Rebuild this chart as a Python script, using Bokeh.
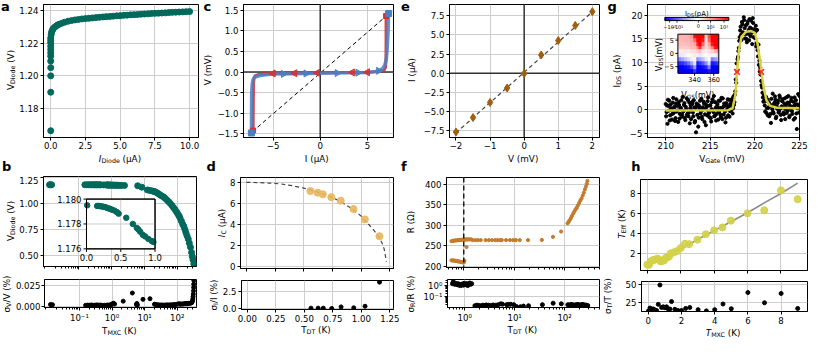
import math
import numpy as np
from bokeh.plotting import figure
from bokeh.layouts import row, column
from bokeh.models import (Range1d, LinearScale, FixedTicker, CustomJSTickFormatter,
                          Label, Span, LinearColorMapper, Div)
from bokeh.core.properties import value
from bokeh.embed import file_html
from bokeh.resources import INLINE

# ======================= DATA =======================
# (a) diode V-I
a_I = [0, 0, 0, 0, 0, 0, 0, 0, 0, 0, 0, 0,
       0.03, 0.06, 0.1, 0.15, 0.2, 0.3, 0.4, 0.5, 0.6, 0.8,
       1.0, 1.25, 1.5, 1.75, 2.0, 2.25, 2.5, 2.75, 3.0, 3.25,
       3.5, 3.75, 4.0, 4.25, 4.5, 4.75, 5.0, 5.25, 5.5, 5.75,
       6.0, 6.25, 6.5, 6.75, 7.0, 7.25, 7.5, 7.75, 8.0, 8.25,
       8.5, 8.75, 9.0, 9.25, 9.5, 9.75, 10.0]
a_V = [1.1665, 1.190, 1.200, 1.205, 1.209, 1.212, 1.214, 1.216, 1.218, 1.220, 1.2215, 1.223,
       1.225, 1.2265, 1.2275, 1.2283, 1.229, 1.2298, 1.2304, 1.231, 1.2314, 1.2321,
       1.2327, 1.2333, 1.2337, 1.2341, 1.2344, 1.2347, 1.2349, 1.2351, 1.2353, 1.2355,
       1.2357, 1.2359, 1.2361, 1.2362, 1.2364, 1.2366, 1.2367, 1.2369, 1.2370, 1.2372,
       1.2373, 1.2374, 1.2376, 1.2377, 1.2378, 1.2380, 1.2381, 1.2382, 1.2383, 1.2384,
       1.2386, 1.2387, 1.2388, 1.2389, 1.2390, 1.2391, 1.2392]
a_err = [0.0018, 0.0016, 0.0015, 0.0012, 0.0010, 0.0010, 0.0008, 0.0008, 0.0008, 0.0008, 0.0008, 0.0008]

# (b) diode V vs T_MXC
b_T = [0.013, 0.014, 0.015, 0.155, 0.179, 0.203, 0.227, 0.251, 0.275, 0.300, 0.324, 0.348,
       0.372, 0.406, 0.444, 0.469, 0.580, 0.676, 0.734, 0.758, 0.783, 0.821, 0.855, 0.903,
       0.952, 0.976, 1.05, 1.12, 1.2, 1.3, 1.4, 1.5, 1.65, 1.8, 2.0, 2.5,
       6.3, 8.4, 12.5, 15, 17.6, 20, 22, 25, 28, 31, 35, 40, 44, 50, 56, 62, 70, 78, 87, 96,
       105, 115, 123, 135, 148, 160, 173, 185, 200, 218, 235, 255, 275, 290, 305, 322]
b_V = [1.1796, 1.1795, 1.1796, 1.17945, 1.17945, 1.17943, 1.1794, 1.17938, 1.17935, 1.1793,
       1.17925, 1.1792, 1.17915, 1.17908, 1.17895, 1.17883, 1.1785, 1.1780, 1.17768, 1.17755,
       1.17738, 1.17713, 1.1770, 1.1768, 1.17663, 1.17655, 1.1763, 1.1761, 1.1758, 1.1755,
       1.1752, 1.1749, 1.1745, 1.1741, 1.1736, 1.173,
       1.17, 1.156, 1.13, 1.125, 1.12, 1.115, 1.11, 1.10, 1.09, 1.08, 1.07, 1.06, 1.047, 1.03,
       1.015, 1.0, 0.98, 0.96, 0.94, 0.92, 0.9, 0.88, 0.86, 0.83, 0.80, 0.78, 0.75, 0.72, 0.69,
       0.66, 0.62, 0.58, 0.53, 0.49, 0.46, 0.42]
bi_T = [0.01, 0.155, 0.179, 0.203, 0.227, 0.251, 0.275, 0.300, 0.324, 0.348, 0.372, 0.406,
        0.444, 0.469, 0.580, 0.676, 0.734, 0.758, 0.783, 0.821, 0.855, 0.903, 0.952, 0.976]
bi_V = [1.1795, 1.17945, 1.17945, 1.17943, 1.1794, 1.17938, 1.17935, 1.1793, 1.17925, 1.1792,
        1.17915, 1.17908, 1.17895, 1.17883, 1.1785, 1.1780, 1.17768, 1.17755, 1.17738, 1.17713,
        1.1770, 1.1768, 1.17663, 1.17655]
bs_T = [0.013, 0.014, 0.015, 0.155, 0.18, 0.2, 0.23, 0.25, 0.28, 0.3, 0.33, 0.35, 0.38, 0.41,
        0.44, 0.47, 0.58, 0.68, 0.73, 0.78, 0.82, 0.86, 0.9, 0.95, 0.98, 1.05, 1.12, 1.2, 2.2,
        4.2, 5.6, 5.8, 6.0, 8.9, 14.6, 20, 22, 25, 28, 31, 35, 40, 44, 50, 56, 62, 70, 78, 87,
        96, 105, 115, 123, 135, 148, 160, 173, 185, 200, 218, 235, 255, 275, 285, 295, 300,
        305, 310, 315, 318, 320, 322]
bs_S = [0.0025, 0.0018, 0.0022, 0.0015, 0.0018, 0.0016, 0.0019, 0.0017, 0.0015, 0.0018,
        0.0016, 0.0019, 0.0017, 0.0015, 0.0018, 0.0016, 0.0017, 0.0016, 0.0018, 0.0015,
        0.0017, 0.0019, 0.0016, 0.0018, 0.0028, 0.0035, 0.0040, 0.0030, 0.0065, 0.0163,
        0.0025, 0.0038, 0.0018, 0.0087, 0.0095, 0.0028, 0.0025, 0.0022, 0.0020, 0.0018,
        0.0020, 0.0017, 0.0019, 0.0021, 0.0018, 0.0022, 0.0020, 0.0025, 0.0023, 0.0027,
        0.0030, 0.0035, 0.0028, 0.0032, 0.0030, 0.0035, 0.0033, 0.0038, 0.0034, 0.0040,
        0.0036, 0.0042, 0.0045, 0.0055, 0.0070, 0.0090, 0.0120, 0.0150, 0.0190, 0.0230,
        0.0270, 0.0315]

# (c) junction I-V hysteresis
c_up_I = [-7.30, -7.29, -7.27, -7.22, -7.12, -6.9, -6.5, -6.0, -5.0, -3.0, 0.0, 3.0, 5.0,
          5.8, 6.3, 6.6, 6.85, 7.0, 7.1, 7.2, 7.25]
c_up_V = [-1.48, -1.0, -0.5, -0.3, -0.18, -0.12, -0.09, -0.07, -0.05, -0.04, -0.03, -0.02,
          -0.01, 0.01, 0.04, 0.08, 0.17, 0.3, 0.55, 1.0, 1.42]
c_dn_I = [6.98, 6.98, 6.97, 6.93, 6.8, 6.3, 5.0, 0.0, -5.0, -6.5, -6.9, -7.02, -7.08, -7.1, -7.12]
c_dn_V = [1.36, 0.8, 0.3, 0.12, 0.05, 0.015, -0.005, -0.02, -0.035, -0.055, -0.09, -0.15,
          -0.3, -0.8, -1.45]
c_mk_dn_I = [-5.0, -2.7, -0.3, 3.4, 5.0]
c_mk_dn_V = [-0.035, -0.03, -0.02, -0.01, -0.005]
c_mk_up_I = [-3.9, -1.5, 1.8, 4.0, 6.2]
c_mk_up_V = [-0.045, -0.035, -0.025, -0.015, 0.03]
c_end_up_I = [-7.30, 7.25]
c_end_up_V = [-1.48, 1.42]
c_end_dn_I = [-7.12, 6.98]
c_end_dn_V = [-1.42, 1.36]
c_fit_I = [-7.2, 7.3]
c_fit_V = [-1.45, 1.42]

# (d) critical current vs T_DT
d_T = [0.558, 0.621, 0.666, 0.740, 0.822, 0.933, 1.032, 1.159]
d_I = [7.18, 7.02, 6.87, 6.60, 6.26, 5.47, 4.49, 2.90]
d_sig = [0.09, 0.09, 0.09, 0.05, 0.27, 0.14, 0.36, 3.77]
d_fit_T = [0.0, 0.1, 0.2, 0.3, 0.4, 0.5, 0.6, 0.7, 0.8, 0.9, 1.0, 1.05, 1.1, 1.15, 1.18, 1.2, 1.22]
d_fit_I = [8.0, 7.98, 7.93, 7.85, 7.68, 7.45, 7.15, 6.78, 6.3, 5.65, 4.8, 4.2, 3.6, 2.9, 2.3, 1.7, 0.5]

# (e) I-V of resistor
e_V = [-2, -1.5, -1, -0.5, 0, 0.5, 1, 1.5, 2]
e_I = [-7.67, -5.78, -3.81, -1.93, -0.04, 2.39, 4.27, 6.24, 8.04]
e_err = [0.35, 0.35, 0.35, 0.35, 0.35, 0.35, 0.35, 0.35, 0.35]
e_fit_V = [-2.0, 2.0]
e_fit_I = [-7.78, 8.02]

# (f) R vs T_DT
f_T = [0.57, 0.6, 0.63, 0.66, 0.7, 0.74, 0.78, 0.82, 0.86, 0.9, 0.95, 1.0, 1.05, 1.1, 1.16,
       1.22, 1.3, 1.39,
       0.57, 0.6, 0.63, 0.66, 0.7, 0.74, 0.78, 0.82, 0.86, 0.9, 0.95, 1.0, 1.03, 1.13,
       1.5, 1.7, 1.9, 2.17, 2.71, 3.15, 3.66, 4.24, 4.71, 5.31, 5.7, 6.93, 8.3, 9.63, 10.85,
       12.96, 18.9, 35.7, 59.3, 86.1,
       116, 122, 128, 135, 141, 150, 158, 167, 176, 186, 197, 208, 220, 232, 244, 256, 268,
       280, 288]
f_R = [261.5, 262, 262.5, 263, 263.3, 263.6, 264, 264.2, 264.5, 264.7, 265, 265.2, 265.4,
       265.5, 265.6, 265.7, 265.8, 265.9,
       214.5, 214.2, 214, 213.6, 213.2, 212.6, 212, 211.4, 210.8, 210.2, 209.6, 209.2, 213.5,
       247,
       264, 264, 264, 264, 264, 264, 264, 264, 264, 264, 264, 264, 264, 264, 264, 264, 264,
       264.5, 272, 285,
       305, 309, 313, 318, 323, 329, 334, 339, 343, 349, 355, 361, 366, 373, 380, 388, 395,
       402, 409]
f_Tc = 1.0
fs_T = [0.57, 0.59, 0.61, 0.63, 0.65, 0.68, 0.71, 0.74, 0.77, 0.8, 0.83, 0.86, 0.9, 0.94,
        0.98, 1.02, 1.06, 1.1, 1.15, 1.2, 1.26, 1.32, 1.38,
        1.6, 1.75, 1.9, 2.1, 2.3, 2.5, 2.7, 3.0, 3.3, 3.7, 4.2, 4.7, 5.3, 5.7, 6.9, 7.5, 8.3,
        9.6, 10.8, 13, 15, 19, 36, 59, 86, 116, 125, 135, 145, 155, 165, 175, 185, 195, 205,
        215, 225, 235, 245, 255, 265, 275, 285, 290]
fs_S = [1.5, 2.2, 1.7, 1.3, 1.6, 1.4, 1.2, 1.5, 1.1, 1.3, 1.0, 1.2, 1.4, 1.1, 1.6, 1.3, 1.2,
        1.5, 1.0, 1.4, 1.7, 1.3, 1.5,
        0.016, 0.018, 0.017, 0.016, 0.018, 0.017, 0.019, 0.018, 0.017, 0.019, 0.018, 0.02,
        0.024, 0.022, 0.02, 0.021, 0.022, 0.02, 0.014, 0.013, 0.015, 0.016, 0.02, 0.027, 0.024,
        0.02, 0.019, 0.021, 0.02, 0.018, 0.019, 0.02, 0.021, 0.019, 0.018, 0.02, 0.019, 0.021,
        0.018, 0.017, 0.019, 0.016, 0.014, 0.017]

# (g) Coulomb peak
g_x = [
    210.0, 210.05, 210.1, 210.15, 210.2, 210.25, 210.3, 210.35, 210.4, 210.45, 210.5, 210.55, 210.6, 210.65, 210.7, 210.75, 210.8, 210.85, 210.9, 210.95,
    211.0, 211.05, 211.1, 211.15, 211.2, 211.25, 211.3, 211.35, 211.4, 211.45, 211.5, 211.55, 211.6, 211.65, 211.7, 211.75, 211.8, 211.85, 211.9, 211.95,
    212.0, 212.05, 212.1, 212.15, 212.2, 212.25, 212.3, 212.35, 212.4, 212.45, 212.5, 212.55, 212.6, 212.65, 212.7, 212.75, 212.8, 212.85, 212.9, 212.95,
    213.0, 213.05, 213.1, 213.15, 213.2, 213.25, 213.3, 213.35, 213.4, 213.45, 213.5, 213.55, 213.6, 213.65, 213.7, 213.75, 213.8, 213.85, 213.9, 213.95,
    214.0, 214.05, 214.1, 214.15, 214.2, 214.25, 214.3, 214.35, 214.4, 214.45, 214.5, 214.55, 214.6, 214.65, 214.7, 214.75, 214.8, 214.85, 214.9, 214.95,
    215.0, 215.05, 215.1, 215.15, 215.2, 215.25, 215.3, 215.35, 215.4, 215.45, 215.5, 215.55, 215.6, 215.65, 215.7, 215.75, 215.8, 215.85, 215.9, 215.95,
    216.0, 216.05, 216.1, 216.15, 216.2, 216.25, 216.3, 216.35, 216.4, 216.45, 216.5, 216.55, 216.6, 216.65, 216.7, 216.75, 216.8, 216.85, 216.9, 216.95,
    217.0, 217.05, 217.1, 217.15, 217.2, 217.25, 217.3, 217.35, 217.4, 217.45, 217.5, 217.55, 217.6, 217.65, 217.7, 217.75, 217.8, 217.85, 217.9, 217.95,
    218.0, 218.05, 218.1, 218.15, 218.2, 218.25, 218.3, 218.35, 218.4, 218.45, 218.5, 218.55, 218.6, 218.65, 218.7, 218.75, 218.8, 218.85, 218.9, 218.95,
    219.0, 219.05, 219.1, 219.15, 219.2, 219.25, 219.3, 219.35, 219.4, 219.45, 219.5, 219.55, 219.6, 219.65, 219.7, 219.75, 219.8, 219.85, 219.9, 219.95,
    220.0, 220.05, 220.1, 220.15, 220.2, 220.25, 220.3, 220.35, 220.4, 220.45, 220.5, 220.55, 220.6, 220.65, 220.7, 220.75, 220.8, 220.85, 220.9, 220.95,
    221.0, 221.05, 221.1, 221.15, 221.2, 221.25, 221.3, 221.35, 221.4, 221.45, 221.5, 221.55, 221.6, 221.65, 221.7, 221.75, 221.8, 221.85, 221.9, 221.95,
    222.0, 222.05, 222.1, 222.15, 222.2, 222.25, 222.3, 222.35, 222.4, 222.45, 222.5, 222.55, 222.6, 222.65, 222.7, 222.75, 222.8, 222.85, 222.9, 222.95,
    223.0, 223.05, 223.1, 223.15, 223.2, 223.25, 223.3, 223.35, 223.4, 223.45, 223.5, 223.55, 223.6, 223.65, 223.7, 223.75, 223.8, 223.85, 223.9, 223.95,
    224.0, 224.05, 224.1, 224.15, 224.2, 224.25, 224.3, 224.35, 224.4, 224.45, 224.5, 224.55, 224.6, 224.65, 224.7, 224.75, 224.8, 224.85, 224.9, 224.95,
    225.0]
g_I = [
    1.2, -1.4, -0.5, 0.9, -3.0, 2.1, 0.8, -0.2, 1.9, -2.3, -1.2, 1.1, 0.3, 0.0, -2.1, -0.9, 1.5, 2.5, -0.7, 0.5,
    0.6, -2.4, -1.8, 1.3, 2.2, -0.4, -0.2, 0.8, -2.6, 1.6, 1.0, -1.9, -0.9, 0.2, 0.4, 2.0, -1.5, -1.0, 2.7, -0.3,
    -0.3, 1.0, 1.4, -1.7, -2.2, 0.6, 0.1, 2.4, -1.1, -0.8, 2.0, -1.4, -0.6, 1.5, -2.9, 0.3, 0.9, -2.0, -0.1, 1.2,
    1.7, -0.6, -1.4, 2.0, 0.5, -2.7, -2.4, 0.4, -4.8, 1.3, 0.7, -1.1, 1.1, -3.6, -1.7, 0.8, 0.2, 1.9, -0.8, -0.4,
    2.3, -1.5, -2.0, 0.5, 0.0, 1.7, 1.3, -2.6, -1.0, 0.2, -3.3, 1.0, 0.6, -1.2, 1.8, 2.6, -0.4, -0.7, -1.6, 0.9,
    0.9, -1.8, -2.5, 0.1, 1.6, 2.2, -0.2, -0.5, 2.9, -1.4, -1.3, 1.6, 0.4, -2.3, -0.9, 0.7, 1.2, -0.1, -2.1, 1.9,
    -0.5, 0.4, 1.9, -1.1, -1.6, 2.5, 0.3, -2.0, 2.4, 0.6, -1.0, 1.3, 0.8, -0.4, -2.7, -1.7, 1.4, 0.9, 0.1, 2.2,
    -1.2, 0.6, 2.1, -1.5, -0.3, 1.2, 0.9, -0.1, 1.7, 2.3, -0.8, 0.3, 2.8, 1.0, 1.6, 3.2, 3.9, 6.4, 5.7, 9.8,
    8.3, 10.7, 11.2, 12.4, 13.1, 14.6, 15.4, 16.8, 17.6, 15.9, 14.8, 18.6, 18.1, 16.4, 16.2, 19.6, 19.0, 17.3, 15.1, 16.0,
    17.9, 15.0, 14.3, 18.2, 18.7, 16.1, 16.9, 14.7, 19.2, 17.4, 15.6, 18.9, 17.2, 16.3, 13.9, 19.4, 18.4, 15.4, 16.6, 17.1,
    15.2, 16.5, 17.8, 13.4, 14.1, 16.9, 12.6, 11.3, 13.8, 9.5, 10.4, 8.1, 8.9, 7.4, 6.1, 5.2, 4.7, 3.6, 2.6, 1.7,
    3.1, 1.9, 0.9, -0.4, 1.8, 2.7, -0.7, 0.3, 2.2, -1.2, 0.4, 1.6, -1.4, 0.8, 1.1, -0.9, -2.8, 2.3, 0.6, 0.1,
    3.4, -0.5, -0.8, 1.2, 1.5, 2.8, 2.1, -1.8, -1.5, 0.7, 0.2, 1.4, 1.9, -0.6, -0.3, 3.0, 2.6, 0.2, -1.1, -2.2,
    0.7, 1.8, 2.2, 0.5, -0.6, -1.0, 1.3, 2.4, -2.0, 0.1, 0.9, -0.7, 2.7, 1.5, -0.2, 2.9, 1.4, -1.6, -1.3, 0.8,
    0.3, 1.9, 2.5, -0.3, -0.9, 0.6, 1.7, -2.1, 0.8, 2.6, -1.8, 1.2, 2.0, -0.8, -4.1, 0.3, 1.1, 3.3, 0.4, -0.6,
    2.9]
g_fit_x = [210.0, 217.0, 217.5, 217.8, 218.0, 218.2, 218.5, 219.0, 219.5, 220.0, 220.3, 220.6,
           220.8, 221.0, 221.3, 221.7, 222.5, 225.0]
g_fit_y = [-0.2, -0.1, 0.3, 3.0, 8.0, 12.5, 15.5, 16.5, 16.7, 16.3, 14.0, 10.0, 7.0, 4.5, 2.0,
           0.8, 0.4, 0.3]
g_mark_x = [218.0, 220.7]
g_mark_y = [8.0, 8.0]
# inset: I_DS map (rows from V_DS = +6.75 mV down to -6.75 mV), normalised symlog units
g_map = [
    [0.30, 0.30, 0.30, 0.32, 0.40, 0.95, 1.00, 1.00, 1.00, 0.20, 0.70, 1.00, 1.00, 1.00],
    [0.28, 0.28, 0.30, 0.30, 0.35, 0.60, 1.00, 1.00, 0.90, 0.15, 0.60, 1.00, 1.00, 1.00],
    [0.25, 0.25, 0.25, 0.28, 0.30, 0.35, 0.85, 1.00, 0.60, 0.15, 0.35, 0.90, 1.00, 1.00],
    [0.20, 0.20, 0.20, 0.22, 0.25, 0.28, 0.45, 0.80, 0.30, 0.15, 0.25, 0.50, 0.90, 1.00],
    [0.08, 0.08, 0.10, 0.10, 0.12, 0.15, 0.20, 0.25, 0.10, 0.08, 0.12, 0.20, 0.30, 0.45],
    [-0.10, -0.08, -0.05, 0.00, 0.05, 0.08, -0.05, -0.10, -0.05, 0.00, 0.05, 0.05, -0.05, -0.15],
    [-0.45, -0.35, -0.25, -0.15, -0.05, 0.05, -0.45, -0.35, -0.25, -0.10, 0.00, -0.50, -0.40, -0.30],
    [-0.85, -0.80, -0.70, -0.55, -0.35, -0.10, -0.90, -0.80, -0.65, -0.45, -0.15, -0.90, -0.85, -0.75],
    [-1.00, -1.00, -0.95, -0.90, -0.75, -0.40, -1.00, -1.00, -0.95, -0.85, -0.50, -1.00, -1.00, -1.00],
    [-1.00, -1.00, -1.00, -1.00, -1.00, -0.80, -1.00, -1.00, -1.00, -1.00, -0.90, -1.00, -1.00, -1.00]]
g_map_vgs = (322.6, 365.3)
g_map_vds = (-7.5, 7.25)
g_cb_ticks = [0.075, 0.19, 0.525, 0.715, 0.925]
g_cb_labels = ["\u221210\u00b3", "\u221210\u00b9", "0", "10\u00b9", "10\u00b3"]

# (h) effective temperature
h_T = [0, 0.1, 0.2, 0.3, 0.4, 0.5, 0.6, 0.7, 0.8, 0.9, 1.0, 1.1, 1.2, 1.3, 1.4, 1.6, 1.8, 2.0,
       2.25, 2.5, 3.0, 3.5, 4.0, 4.5, 5.0, 6.0, 7.0, 8.0, 9.0]
h_Te = [0.87, 0.85, 1.2, 1.3, 1.35, 1.4, 1.48, 1.38, 1.2, 1.25, 1.3, 1.55, 1.62, 1.7, 2.0, 2.12,
        2.25, 2.55, 2.97, 2.94, 3.39, 3.94, 4.33, 4.63, 5.31, 6.05, 6.35, 8.36, 7.48]
h_sig = [13.4, 17.7, 16.4, 16.4, 15.1, 14.3, 22.8, 49.6, 18.5, 19.4, 18.1, 19.4, 16.4, 16.4,
         26.7, 16.0, 14.3, 14.3, 17.2, 18.5, 15.5, 13.8, 15.5, 23.3, 16.8, 39.2, 25.0, 37.9, 17.2]
h_fit_T = [0, 0.25, 0.5, 0.75, 1.0, 1.5, 2.0, 3.0, 4.0, 5.0, 6.0, 7.0, 8.0, 9.0]
h_fit_Te = [1.12, 1.15, 1.2, 1.3, 1.45, 1.9, 2.45, 3.4, 4.3, 5.2, 6.1, 7.1, 8.05, 9.1]

# ======================= STYLE / LAYOUT =======================
FONT = "DejaVu Sans"
TSZ = 8.6
TS = f"{TSZ}px"
LSZ = 8.8
LETSZ = 13
TEAL = "#00695c"
BLUE = "#4a7fc6"
RED = "#d9302c"
GOLD = "#e9b75f"
BROWN = "#a05e0e"
FCOL = "#c47c2c"
YEL = "#d6d03e"
HCOL = "#d3d24a"
GRID = "#cdcdcd"

SX = 813 / 827
SY = 342 / 355
XS = [2, 205, 408, 614, 829]


def tx(x):
    return 8 + (x - 2) * SX


def ty(y):
    return 8 + (y - 1) * SY


def px(x):
    return int(round(tx(x)))


def py(y):
    return int(round(ty(y)))


CW = {' ': 0.318, '(': 0.390, ')': 0.390, '%': 0.950, '/': 0.337, '.': 0.318,
      '\u2212': 0.838, '\u207b': 0.536, '\u00b9': 0.401, '\u00b2': 0.401, '\u00b3': 0.401,
      '\u2070': 0.401,
      'A': 0.684, 'C': 0.698, 'D': 0.770, 'E': 0.632, 'G': 0.775, 'I': 0.295,
      'K': 0.656, 'M': 0.863, 'R': 0.695, 'S': 0.635, 'T': 0.611, 'V': 0.684,
      'X': 0.685, 'a': 0.613, 'b': 0.635, 'c': 0.550, 'd': 0.635, 'e': 0.615,
      'f': 0.352, 'g': 0.635, 'h': 0.634, 'i': 0.278, 'm': 0.974, 'o': 0.612,
      'p': 0.635, 't': 0.392, '\u00b5': 0.636, '\u03a9': 0.764, '\u03c3': 0.634}
for _d in "0123456789":
    CW[_d] = 0.636


def tw(s, size):
    return sum(CW.get(c, 0.62) for c in s) * size


def fmt(dec):
    return CustomJSTickFormatter(code="""
const v = Math.abs(tick) < 1e-9 ? 0 : tick;
const s = Math.abs(v).toFixed(%d);
return (v < 0 ? '\u2212' : '') + s;""" % dec)


LOGF = CustomJSTickFormatter(code="""
const e = Math.round(Math.log10(tick));
const m = {'-':'\u207b','0':'\u2070','1':'\u00b9','2':'\u00b2','3':'\u00b3','4':'\u2074','5':'\u2075','6':'\u2076','7':'\u2077','8':'\u2078','9':'\u2079'};
return '10' + String(e).split('').map(c => m[c]).join('');""")
BLANK = CustomJSTickFormatter(code="return '';")

STRIPS = []


def strip(X0, X1, Y0, Y1):
    """Text-only cell of the layout (axis labels / panel letters outside the frames)."""
    d = Div(text="", width=X1 - X0, height=Y1 - Y0, margin=0, styles={"overflow": "visible"})
    info = dict(L=X0, T=Y0, W=X1 - X0, H=Y1 - Y0, spans=[], div=d)
    STRIPS.append(info)
    return d, info


def piece_html(pieces):
    out = []
    for pc in pieces:
        t, k = (pc, "") if isinstance(pc, str) else pc
        t = t.replace("&", "&amp;").replace("<", "&lt;")
        if "s" in k:
            t = ('<sub style="font-size:72%;vertical-align:-0.22em;line-height:0">'
                 + t + '</sub>')
        if "i" in k:
            t = '<i>' + t + '</i>'
        out.append(t)
    return "".join(out)


def hrich(info, rx, ry, pieces, size=LSZ, rot=False, clamp=False):
    cx = tx(rx) - info["L"]
    cy = ty(ry) - info["T"]
    if rot and clamp:
        cx = max(min(cx, info["W"] - 0.62 * size), 0.62 * size)
    if not rot:
        cy = max(min(cy, info["H"] - 0.52 * size), 0.52 * size)
    tr = "translate(-50%,-50%)" + (" rotate(-90deg)" if rot else "")
    info["spans"].append(
        f'<span style="position:absolute;left:{cx:.2f}px;top:{cy:.2f}px;transform:{tr};'
        f'white-space:nowrap;font-family:\'{FONT}\';font-size:{size}px;line-height:1;'
        f'color:#000">{piece_html(pieces)}</span>')


def hletter(info, rx, rbase, t, size=LETSZ):
    x = tx(rx) - info["L"]
    top = max(ty(rbase) - info["T"] - 0.846 * size, 0.2)
    info["spans"].append(
        f'<span style="position:absolute;left:{x:.2f}px;top:{top:.2f}px;'
        f'white-space:nowrap;font-family:\'{FONT}\';font-weight:bold;font-size:{size}px;'
        f'line-height:1;color:#000">{t}</span>')


def finish_strips():
    for s in STRIPS:
        s["div"].text = (f'<div style="position:relative;width:{s["W"]}px;height:{s["H"]}px;'
                         f'overflow:visible;margin:0;padding:0">' + "".join(s["spans"]) + '</div>')


def mk(X0, X1, Y0, Y1, frame, xr, yr, xlog=False, ylog=False):
    l, r, t, b = frame
    bl = px(l) - X0
    br = X1 - px(r)
    bt = py(t) - Y0
    bb = Y1 - py(b)
    p = figure(width=X1 - X0, height=Y1 - Y0, x_range=Range1d(*xr), y_range=Range1d(*yr),
               x_axis_type="log" if xlog else "linear",
               y_axis_type="log" if ylog else "linear",
               output_backend="svg", toolbar_location=None, title=None,
               min_border_left=bl, min_border_right=br, min_border_top=bt, min_border_bottom=bb)
    p.background_fill_color = "white"
    p.border_fill_color = "white"
    p.outline_line_color = "black"
    p.outline_line_width = 1
    p.outline_line_alpha = 1
    p.grid.grid_line_color = GRID
    p.grid.grid_line_width = 1
    for ax in p.axis:
        ax.axis_line_color = "black"
        ax.major_tick_line_color = "black"
        ax.major_tick_in = 0
        ax.major_tick_out = 3
        ax.minor_tick_line_color = "black"
        ax.minor_tick_in = 0
        ax.minor_tick_out = 2
        ax.major_label_text_font = FONT
        ax.major_label_text_font_size = TS
        ax.major_label_text_color = "black"
        ax.major_label_standoff = 2
    return p, dict(L=px(l), B=py(b), W=X1 - X0 - bl - br, H=Y1 - Y0 - bt - bb)


def set_ticks(ax, ticks, dec=0, log=False, minor=None, hide=False):
    ax.ticker = FixedTicker(ticks=ticks, minor_ticks=minor or [])
    if hide:
        ax.formatter = BLANK
        ax.major_label_text_font_size = "0px"
        ax.major_label_standoff = 0
    else:
        ax.formatter = LOGF if log else fmt(dec)


def need(labels, standoff=2):
    return int(math.ceil(max(tw(s, TSZ) for s in labels))) + 3 + standoff + 1


def rich(p, info, rx, ry, pieces, size=LSZ, rot=False, align="center", color="black"):
    """Texts inside a plot frame (inset labels)."""
    sx = tx(rx) - info["L"]
    sy = info["B"] - ty(ry)
    items = []
    for pc in pieces:
        t, k = (pc, "") if isinstance(pc, str) else pc
        items.append((t, size * 0.72 if "s" in k else size, k))
    total = sum(tw(t, s) for t, s, k in items)
    pos = {"center": -total / 2, "right": -total, "left": 0.0}[align]
    base = 0.36 * size
    for t, s, k in items:
        drop = 0.15 * size if "s" in k else 0.0
        if rot:
            x, y, ang = sx + base + drop, sy + pos, math.pi / 2
        else:
            x, y, ang = sx + pos, sy - base - drop, 0.0
        p.add_layout(Label(x=x, y=y, x_units="screen", y_units="screen", text=t, angle=ang,
                           text_font=FONT, text_font_size=f"{s:.1f}px",
                           text_font_style="italic" if "i" in k else "normal",
                           text_color=color, text_align="left", text_baseline="alphabetic"))
        pos += tw(t, s)


def zero_lines(p):
    for dim in ("width", "height"):
        s = Span(location=0, dimension=dim, line_color="#333333", line_width=1.5)
        s.level = "underlay"
        p.add_layout(s)


def inset(p, info, name, frac, xlim, ylim):
    fx0, fx1, fy0, fy1 = frac
    kx = (xlim[1] - xlim[0]) / (fx1 - fx0)
    ky = (ylim[1] - ylim[0]) / (fy1 - fy0)
    xn, yn = name + "x", name + "y"
    p.extra_x_ranges = {**p.extra_x_ranges, xn: Range1d(xlim[0] - fx0 * kx, xlim[0] + (1 - fx0) * kx)}
    p.extra_y_ranges = {**p.extra_y_ranges, yn: Range1d(ylim[0] - fy0 * ky, ylim[0] + (1 - fy0) * ky)}
    p.extra_x_scales = {**p.extra_x_scales, xn: LinearScale()}
    p.extra_y_scales = {**p.extra_y_scales, yn: LinearScale()}
    return dict(xr=xn, yr=yn, ux=kx / info["W"], uy=ky / info["H"], xlim=xlim, ylim=ylim)


def inset_axes(p, ins, xt, xl, yt, yl, fs, tick=3.0, gap=2.0):
    x0 = ins["xlim"][0]
    y0 = ins["ylim"][0]
    kw = dict(x_range_name=ins["xr"], y_range_name=ins["yr"])
    n, m = len(xt), len(yt)
    p.segment(x0=xt, y0=[y0] * n, x1=xt, y1=[y0 - tick * ins["uy"]] * n,
              line_color="black", line_width=1, **kw)
    p.segment(x0=[x0] * m, y0=yt, x1=[x0 - tick * ins["ux"]] * m, y1=yt,
              line_color="black", line_width=1, **kw)
    p.text(x=xt, y=[y0 - (tick + gap) * ins["uy"]] * n, text=xl, text_align="center",
           text_baseline="top", text_font=value(FONT), text_font_size=value(fs),
           text_color="black", **kw)
    p.text(x=[x0 - (tick + gap) * ins["ux"]] * m, y=yt, text=yl, text_align="right",
           text_baseline="middle", text_font=value(FONT), text_font_size=value(fs),
           text_color="black", **kw)


def box(p, ins, fill=None):
    p.quad(left=[ins["xlim"][0]], right=[ins["xlim"][1]], bottom=[ins["ylim"][0]],
           top=[ins["ylim"][1]], fill_color=fill, fill_alpha=1 if fill else 0,
           line_color="black", line_width=1, x_range_name=ins["xr"], y_range_name=ins["yr"])


LOG_MINOR = [k * 10.0 ** e for e in range(-3, 4) for k in range(2, 10)]

# vertical grid of the page (target px)
TOP0, TOPFIG, TOP1 = py(1), py(158), py(167)
LET1 = py(184)
MAIN1 = py(285)
SUBFIG, SUBFIG_H, SUB1 = py(338), py(340), py(356)
XLAB_RY = 162.4
LET_TOP_RY = 12.5
LET_BOT_RY = 178.6


def top_panel(ci, frame, ylabels, xr, yr, xlog=False):
    CL, CR = px(XS[ci]), px(XS[ci + 1])
    SR = px(frame[0]) - need(ylabels)
    s, si = strip(CL, SR, TOP0, TOP1)
    p, pi = mk(SR, CR, TOP0, TOPFIG, frame, xr, yr, xlog=xlog)
    p.xaxis.major_label_standoff = 1
    xs_, xi = strip(SR, CR, TOPFIG, TOP1)
    return p, pi, si, xi, row(s, column(p, xs_))


def bottom_panel(ci, frame_m, ylab_m, frame_s, ylab_s, xr, yr_m, yr_s, xlog=False,
                 ylog_s=False, sub_bottom=None, sub_standoff=2):
    CL, CR = px(XS[ci]), px(XS[ci + 1])
    lt, lti = strip(CL, CR, TOP1, LET1)
    SRm = px(frame_m[0]) - need(ylab_m)
    sm, smi = strip(CL, SRm, LET1, MAIN1)
    pm, pmi = mk(SRm, CR, LET1, MAIN1, frame_m, xr, yr_m, xlog=xlog)
    SRs = px(frame_s[0]) - need(ylab_s, sub_standoff)
    sb = sub_bottom or SUBFIG
    ss, ssi = strip(CL, SRs, MAIN1, SUB1)
    ps, psi = mk(SRs, CR, MAIN1, sb, frame_s, xr, yr_s, xlog=xlog, ylog=ylog_s)
    ps.yaxis.major_label_standoff = sub_standoff
    xs_, xi = strip(SRs, CR, sb, SUB1)
    lay = column(lt, row(sm, pm), row(ss, column(ps, xs_)))
    return dict(lt=lti, sm=smi, pm=(pm, pmi), ss=ssi, ps=(ps, psi), xs=xi, lay=lay)


# ---------------- (a) ----------------
ya = ["1.18", "1.20", "1.22", "1.24"]
pa, ia, isa, ixa, lay_a = top_panel(0, (45, 203, 5, 143), ya, (-0.52, 10.64), (1.1624, 1.2435))
set_ticks(pa.xaxis[0], [0, 2.5, 5, 7.5, 10], 1)
set_ticks(pa.yaxis[0], [1.18, 1.20, 1.22, 1.24], 2)
nerr = len(a_err)
pa.segment(x0=a_I[:nerr], x1=a_I[:nerr],
           y0=[v - e for v, e in zip(a_V[:nerr], a_err)],
           y1=[v + e for v, e in zip(a_V[:nerr], a_err)], line_color=TEAL, line_width=1.5)
pa.scatter(a_I, a_V, size=6, fill_color=TEAL, line_color=TEAL)
hrich(ixa, 124, XLAB_RY, [("I", "i"), ("Diode", "s"), " (\u00b5A)"])
hrich(isa, 12.7, 74, ["V", ("Diode", "s"), " (V)"], rot=True, clamp=True)
hletter(isa, 3, LET_TOP_RY, "a")

# ---------------- (c) ----------------
yc = ["\u22121.5", "1.5"]
pc, ic, isc, ixc, lay_c = top_panel(1, (246.7, 401.7, 5, 143), yc, (-8.14, 7.77), (-1.59, 1.64))
set_ticks(pc.xaxis[0], [-5, 0, 5], 0)
set_ticks(pc.yaxis[0], [-1.5, -1.0, -0.5, 0, 0.5, 1.0, 1.5], 1)
zero_lines(pc)
pc.line(c_fit_I, c_fit_V, line_color="black", line_dash="4 3", line_width=1)
pc.line(c_dn_I, c_dn_V, line_color=RED, line_width=3, line_alpha=0.9)
pc.line(c_up_I, c_up_V, line_color=BLUE, line_width=3.5, line_alpha=0.85)
pc.scatter(c_mk_dn_I, c_mk_dn_V, marker="triangle", angle=math.pi / 2, size=7,
           fill_color=RED, line_color=RED, fill_alpha=0.8)
pc.scatter(c_mk_up_I, c_mk_up_V, marker="triangle", angle=-math.pi / 2, size=7,
           fill_color=BLUE, line_color=BLUE, fill_alpha=0.8)
pc.scatter(c_end_dn_I, c_end_dn_V, marker="square", size=5, fill_color=RED, line_color=RED)
pc.scatter(c_end_up_I, c_end_up_V, marker="square", size=6, fill_color=BLUE, line_color=BLUE)
hrich(ixc, 324.2, XLAB_RY, ["I (\u00b5A)"])
hrich(isc, 213.3, 74, ["V (mV)"], rot=True, clamp=True)
hletter(isc, 209, LET_TOP_RY, "c")

# ---------------- (e) ----------------
ye = ["\u22127.5", "7.5"]
pe, ie, ise, ixe, lay_e = top_panel(2, (456.7, 611.7, 5, 143), ye, (-2.19, 2.21), (-8.38, 8.97))
set_ticks(pe.xaxis[0], [-2, -1, 0, 1, 2], 0)
set_ticks(pe.yaxis[0], [-7.5, -5, -2.5, 0, 2.5, 5, 7.5], 1)
zero_lines(pe)
pe.line(e_fit_V, e_fit_I, line_color="#444444", line_dash="4 3", line_width=1.2)
pe.segment(x0=e_V, x1=e_V, y0=[i - e for i, e in zip(e_I, e_err)],
           y1=[i + e for i, e in zip(e_I, e_err)], line_color=BROWN, line_width=1.5)
pe.scatter(e_V, e_I, marker="diamond", size=8, fill_color=BROWN, line_color=BROWN)
hrich(ixe, 534.2, XLAB_RY, ["V (mV)"])
hrich(ise, 421, 74, ["I (\u00b5A)"], rot=True, clamp=True)
hletter(ise, 410, LET_TOP_RY, "e")

# ---------------- (g) ----------------
yg = ["\u22125", "20"]
pg, ig, isg, ixg, lay_g = top_panel(3, (657.7, 815, 4.7, 143), yg, (207.96, 225.0), (-5.9, 22.3))
set_ticks(pg.xaxis[0], [210, 215, 220, 225], 0)
set_ticks(pg.yaxis[0], [-5, 0, 5, 10, 15, 20], 0)
pg.scatter(g_x, g_I, size=3.2, fill_color="black", line_color="black")
pg.line(g_fit_x, g_fit_y, line_color=YEL, line_width=2.5)
pg.scatter(g_mark_x, g_mark_y, marker="x", size=8, line_color="#ff2a2a", line_width=1.6)
BWR = []
for i in range(256):
    t = i / 255
    if t < 0.5:
        r = g = int(round(255 * 2 * t)); b = 255
    else:
        r = 255; g = b = int(round(255 * 2 * (1 - t)))
    BWR.append(f"#{r:02x}{g:02x}{b:02x}")
cmap = LinearColorMapper(palette=BWR, low=-1, high=1)
gi = inset(pg, ig, "gi", (0.2, 0.469, 0.4825, 0.777), g_map_vgs, g_map_vds)
pg.image(image=[np.flipud(np.array(g_map))], x=g_map_vgs[0], y=g_map_vds[0],
         dw=g_map_vgs[1] - g_map_vgs[0], dh=g_map_vds[1] - g_map_vds[0], color_mapper=cmap,
         x_range_name=gi["xr"], y_range_name=gi["yr"])
box(pg, gi)
inset_axes(pg, gi, [340, 360], ["340", "360"], [-5, 0, 5], ["\u22125", "0", "5"], "6.5px",
           tick=2.5, gap=1.5)
rich(pg, ig, 710.5, 96.5, ["V", ("GS", "s"), " (mV)"], size=8)
rich(pg, ig, 667.5, 56, ["V", ("DS", "s"), " (mV)"], size=8, rot=True)
gc = inset(pg, ig, "gc", (0.114, 0.535, 0.879, 0.903), (0, 1), (0, 1))
pg.image(image=[np.linspace(-1, 1, 256).reshape(1, 256)], x=0, y=0, dw=1, dh=1,
         color_mapper=cmap, x_range_name=gc["xr"], y_range_name=gc["yr"])
box(pg, gc)
pg.segment(x0=g_cb_ticks, x1=g_cb_ticks, y0=[0] * 5, y1=[-2 * gc["uy"]] * 5, line_color="black",
           line_width=0.8, x_range_name=gc["xr"], y_range_name=gc["yr"])
pg.text(x=g_cb_ticks, y=[-3 * gc["uy"]] * 5, text=g_cb_labels, text_align="center",
        text_baseline="top", text_font=value(FONT), text_font_size=value("5px"),
        text_color="black", x_range_name=gc["xr"], y_range_name=gc["yr"])
rich(pg, ig, 709.5, 12.5, ["I", ("DS", "s"), " (pA)"], size=7)
hrich(ixg, 736.4, XLAB_RY, ["V", ("Gate", "s"), " (mV)"])
hrich(isg, 630, 74.9, ["I", ("DS", "s"), " (pA)"], rot=True, clamp=True)
hletter(isg, 620, LET_TOP_RY, "g")

# ---------------- (b) ----------------
BX = (10 ** -2.07, 10 ** 2.59)
B = bottom_panel(0, (45, 201.7, 184, 277), ["1.25", "0.50"], (45, 201.7, 290.7, 321.7),
                 ["0.025"], BX, (0.395, 1.259), (-0.0011, 0.0326), xlog=True, sub_standoff=1)
pb, ib = B["pm"]
pbs, ibs = B["ps"]
set_ticks(pb.xaxis[0], [0.1, 1, 10, 100], log=True, minor=LOG_MINOR, hide=True)
set_ticks(pb.yaxis[0], [0.5, 0.75, 1.0, 1.25], 2)
pb.scatter(b_T, b_V, size=6, fill_color=TEAL, line_color=TEAL)
bi = inset(pb, ib, "bi", (0.281, 0.729, 0.196, 0.749), (0.0, 1.0), (1.176, 1.180))
box(pb, bi, fill="white")
pb.segment(x0=[0.5, 0.0], y0=[1.176, 1.178], x1=[0.5, 1.0], y1=[1.180, 1.178],
           line_color=GRID, line_width=1, x_range_name=bi["xr"], y_range_name=bi["yr"])
pb.scatter(bi_T, bi_V, size=5.5, fill_color=TEAL, line_color=TEAL,
           x_range_name=bi["xr"], y_range_name=bi["yr"])
box(pb, bi)
inset_axes(pb, bi, [0.0, 0.5, 1.0], ["0.0", "0.5", "1.0"], [1.176, 1.178, 1.180],
           ["1.176", "1.178", "1.180"], "8.5px", tick=3, gap=2)
set_ticks(pbs.xaxis[0], [0.1, 1, 10, 100], log=True, minor=LOG_MINOR)
set_ticks(pbs.yaxis[0], [0, 0.025], 3)
pbs.scatter(bs_T, bs_S, size=4, fill_color="black", line_color="black")
hrich(B["sm"], 14, 230.5, ["V", ("Diode", "s"), " (V)"], rot=True, clamp=True)
hrich(B["ss"], 12, 306.2, ["\u03c3", ("V", "s"), "/V (%)"], rot=True, clamp=True)
hrich(B["xs"], 123.4, 345, ["T", ("MXC", "s"), " (K)"])
hletter(B["lt"], 4, LET_BOT_RY, "b")

# ---------------- (d) ----------------
DX = (-0.051, 1.2815)
D = bottom_panel(1, (245, 401.7, 185, 279), ["8"], (245, 401.7, 291.7, 321.7), ["2.5"],
                 DX, (-0.16, 8.46), (-0.1, 4.0))
pd, idd = D["pm"]
pds, ids = D["ps"]
set_ticks(pd.xaxis[0], [0, 0.25, 0.5, 0.75, 1.0, 1.25], hide=True)
set_ticks(pd.yaxis[0], [0, 2, 4, 6, 8], 0)
pd.line(d_fit_T, d_fit_I, line_color="#444444", line_dash="4 3", line_width=1.2)
pd.scatter(d_T, d_I, size=7, fill_color=GOLD, line_color=GOLD, fill_alpha=0.9)
set_ticks(pds.xaxis[0], [0, 0.25, 0.5, 0.75, 1.0, 1.25], 2)
set_ticks(pds.yaxis[0], [0, 2.5], 1)
pds.scatter(d_T, d_sig, size=4, fill_color="black", line_color="black")
hrich(D["sm"], 233.3, 232, [("I", "i"), ("C", "s"), " (\u00b5A)"], rot=True, clamp=True)
hrich(D["ss"], 220, 306.7, ["\u03c3", ("I", "s"), "/I (%)"], rot=True, clamp=True)
hrich(D["xs"], 323.4, 343, ["T", ("DT", "s"), " (K)"])
hletter(D["lt"], 212, LET_BOT_RY, "d")

# ---------------- (f) ----------------
FX = (10 ** -0.344, 10 ** 2.699)
F = bottom_panel(2, (455, 611.7, 185, 278.3), ["400"], (455, 611.7, 291, 321.7),
                 ["10\u207b\u00b9"], FX, (197, 417.2), (10 ** -1.951, 10 ** 0.545),
                 xlog=True, ylog_s=True)
pf, iff = F["pm"]
pfs, ifs = F["ps"]
set_ticks(pf.xaxis[0], [1, 10, 100], log=True, minor=LOG_MINOR, hide=True)
set_ticks(pf.yaxis[0], [200, 250, 300, 350, 400], 0)
sp = Span(location=f_Tc, dimension="height", line_color="black", line_dash="5 3", line_width=1.3)
pf.add_layout(sp)
pf.scatter(f_T, f_R, size=3.2, fill_color=FCOL, line_color=FCOL)
set_ticks(pfs.xaxis[0], [1, 10, 100], log=True, minor=LOG_MINOR)
set_ticks(pfs.yaxis[0], [0.1, 1], log=True, minor=LOG_MINOR)
pfs.scatter(fs_T, fs_S, size=4, fill_color="black", line_color="black")
hrich(F["sm"], 420, 231.7, ["R (\u03a9)"], rot=True, clamp=True)
hrich(F["ss"], 420, 306.4, ["\u03c3", ("R", "s"), "/R (%)"], rot=True, clamp=True)
hrich(F["xs"], 533.4, 342.5, ["T", ("DT", "s"), " (K)"])
hletter(F["lt"], 410, LET_BOT_RY, "f")

# ---------------- (h) ----------------
HX = (-0.41, 9.59)
H = bottom_panel(3, (652.3, 822.7, 186.7, 281), ["8"], (652.3, 822.7, 292.3, 324.3), ["50"],
                 HX, (0.28, 9.46), (12.95, 54.4), sub_bottom=SUBFIG_H)
ph, ih = H["pm"]
phs, ihs = H["ps"]
set_ticks(ph.xaxis[0], [0, 2, 4, 6, 8], hide=True)
set_ticks(ph.yaxis[0], [2, 4, 6, 8], 0)
ph.line(h_fit_T, h_fit_Te, line_color="#8a8a8a", line_width=1.6)
ph.scatter(h_T, h_Te, size=7, fill_color=HCOL, line_color=HCOL, fill_alpha=0.9)
set_ticks(phs.xaxis[0], [0, 2, 4, 6, 8], 0)
set_ticks(phs.yaxis[0], [25, 50], 0)
phs.scatter(h_T, h_sig, size=4, fill_color="black", line_color="black")
hrich(H["sm"], 635, 233.9, [("T", "i"), ("Eff", "s"), " (K)"], rot=True, clamp=True)
hrich(H["ss"], 620, 308.3, ["\u03c3", ("T", "s"), "/T (%)"], rot=True, clamp=True)
hrich(H["xs"], 737.5, 346.5, [("T", "i"), ("MXC", "s"), " (K)"])
hletter(H["lt"], 644, LET_BOT_RY, "h")

finish_strips()

layout = column(
    row(lay_a, lay_c, lay_e, lay_g),
    row(B["lay"], D["lay"], F["lay"], H["lay"]),
)

with open("out.html", "w") as fh:
    fh.write(file_html(layout, INLINE))
